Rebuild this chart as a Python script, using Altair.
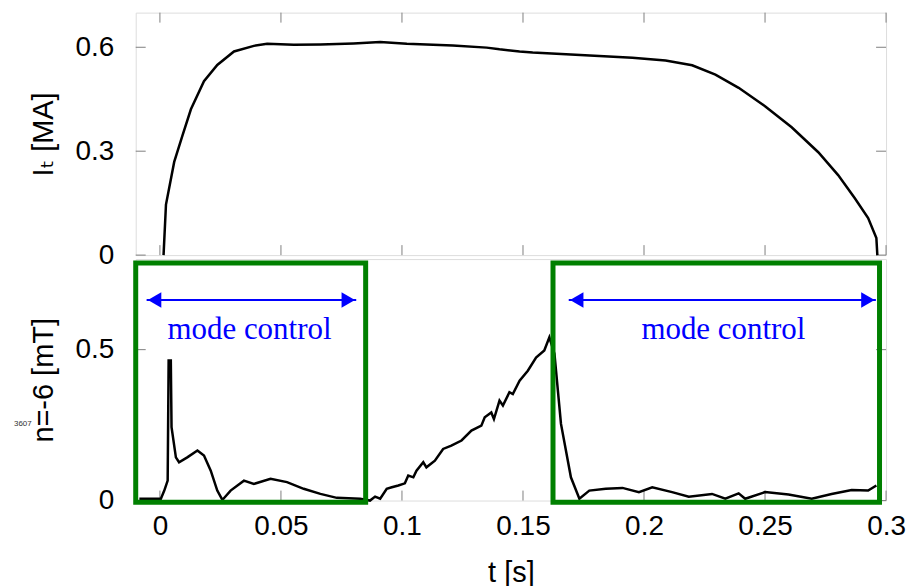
import altair as alt
import pandas as pd

# ---- data ----
t_top = [0.0015, 0.0025, 0.0059, 0.0093, 0.0128, 0.0182, 0.0237, 0.0306, 0.0388, 0.0443,
         0.0553, 0.0663, 0.080, 0.091, 0.102, 0.121, 0.135, 0.1403, 0.1486, 0.154,
         0.1678, 0.1815, 0.1952, 0.2089, 0.2199, 0.2295, 0.2391, 0.25, 0.261, 0.272,
         0.2802, 0.2871, 0.2926, 0.296, 0.2964]
i_top = [0.0, 0.146, 0.269, 0.345, 0.421, 0.502, 0.549, 0.588, 0.604, 0.61,
         0.607, 0.608, 0.611, 0.615, 0.61, 0.605, 0.599, 0.594, 0.588, 0.585,
         0.58, 0.575, 0.570, 0.562, 0.548, 0.521, 0.483, 0.430, 0.369, 0.297,
         0.231, 0.164, 0.107, 0.049, 0.0]

t_bot = [-0.0085, 0.0004, 0.0018, 0.0032, 0.0036, 0.0045, 0.0048, 0.0066, 0.0079, 0.0113,
         0.0155, 0.0182, 0.021, 0.0237, 0.0258, 0.0292, 0.0347, 0.0388, 0.0457, 0.0525,
         0.0594, 0.0663, 0.0731, 0.0827, 0.0868, 0.0889, 0.091, 0.0937, 0.0958, 0.0985,
         0.1012, 0.1026, 0.1047, 0.106, 0.1088, 0.1101, 0.1136, 0.117, 0.1204, 0.1246,
         0.1287, 0.1328, 0.1342, 0.1369, 0.138, 0.1403, 0.1417, 0.1444, 0.1458, 0.1486,
         0.152, 0.1554, 0.1588, 0.1609, 0.163, 0.1657, 0.1698, 0.1733, 0.1774, 0.1842,
         0.1911, 0.1979, 0.2034, 0.2116, 0.2185, 0.2281, 0.2336, 0.2391, 0.2418, 0.25,
         0.2597, 0.2693, 0.2775, 0.2858, 0.2926, 0.296]
b_bot = [0.006, 0.006, 0.033, 0.066, 0.464, 0.464, 0.243, 0.143, 0.127, 0.143,
         0.166, 0.149, 0.099, 0.033, 0.002, 0.033, 0.066, 0.055, 0.072, 0.061,
         0.039, 0.022, 0.009, 0.006, 0.0, 0.013, 0.006, 0.039, 0.044, 0.05,
         0.057, 0.083, 0.077, 0.099, 0.127, 0.11, 0.132, 0.171, 0.182, 0.199,
         0.232, 0.248, 0.276, 0.292, 0.27, 0.331, 0.315, 0.359, 0.353, 0.397,
         0.43, 0.474, 0.497, 0.541, 0.486, 0.254, 0.077, 0.006, 0.033, 0.039,
         0.042, 0.028, 0.044, 0.028, 0.013, 0.022, 0.006, 0.024, 0.006, 0.028,
         0.02, 0.006, 0.022, 0.035, 0.033, 0.05]

x_ticks = [0, 0.05, 0.1, 0.15, 0.2, 0.25, 0.3]
y_ticks_top = [0, 0.3, 0.6]
y_ticks_bot = [0, 0.5]

box_t0 = [-0.01, 0.1624]
box_t1 = [0.085, 0.2973]
box_b0 = [-0.006, -0.006]
box_b1 = [0.787, 0.787]

arrow_t0 = [-0.0055, 0.1689]
arrow_t1 = [0.0811, 0.2958]
arrow_b = [0.6645, 0.6645]

label_t = [0.037, 0.2328]
label_b = [0.535, 0.535]
label_text = ["mode control", "mode control"]

shot_text = ["3607"]

# ---- layout ----
W = 752
H_TOP = 243
H_BOT = 242
X_DOMAIN = [-0.01, 0.3]
GRAY = "#808080"
GREEN = "#008000"
BLUE = "#0000ff"
SANS = "Liberation Sans, Arial, DejaVu Sans"

xs = alt.Scale(domain=X_DOMAIN, nice=False, zero=False)
ys_top = alt.Scale(domain=[0, 0.7], nice=False, zero=False)
ys_bot = alt.Scale(domain=[0, 0.8], nice=False, zero=False)

def yaxis(values, title):
    return alt.Axis(values=values, title=title, format="~g", ticks=False, tickSize=0,
                    domain=False, grid=False, labelPadding=22, titlePadding=16,
                    labelFontSize=28, titleFontSize=29, labelFont=SANS, titleFont=SANS,
                    labelColor="black", titleColor="black", titleFontWeight="normal")

x_axis_bot = alt.Axis(values=x_ticks, title="t [s]", format="~g", ticks=False, tickSize=0,
                      domain=False, grid=False, labelPadding=12, titlePadding=18,
                      labelFontSize=28, titleFontSize=29, labelFont=SANS, titleFont=SANS,
                      labelColor="black", titleColor="black", titleFontWeight="normal",
                      labelFlush=False, labelOverlap=False)

ax_top = yaxis(y_ticks_top, "Iₜ [MA]")
ax_bot = yaxis(y_ticks_bot, "n=-6 [mT]")

df_top = pd.DataFrame({"x": t_top, "y": i_top})
df_bot = pd.DataFrame({"x": t_bot, "y": b_bot})
df_xt = pd.DataFrame({"x": x_ticks})
df_yt_top = pd.DataFrame({"y": y_ticks_top})
df_yt_bot = pd.DataFrame({"y": y_ticks_bot})
df_box = pd.DataFrame({"x": box_t0, "x2": box_t1, "y": box_b0, "y2": box_b1})
df_arrow = pd.DataFrame({"x": arrow_t0, "x2": arrow_t1, "y": arrow_b})
df_label = pd.DataFrame({"x": label_t, "y": label_b, "text": label_text})
df_shot = pd.DataFrame({"text": shot_text})

TL = 10  # inward tick length

# ---- top panel ----
top_line = alt.Chart(df_top).mark_line(color="black", strokeWidth=2.5).encode(
    x=alt.X("x:Q", scale=xs, axis=None),
    y=alt.Y("y:Q", scale=ys_top, axis=ax_top),
)
top_xt_b = alt.Chart(df_xt).mark_rule(color=GRAY, strokeWidth=1).encode(
    x=alt.X("x:Q", scale=xs, axis=None), y=alt.value(H_TOP), y2=alt.value(H_TOP - TL))
top_xt_t = alt.Chart(df_xt).mark_rule(color=GRAY, strokeWidth=1).encode(
    x=alt.X("x:Q", scale=xs, axis=None), y=alt.value(0), y2=alt.value(TL))
top_yt_l = alt.Chart(df_yt_top).mark_rule(color=GRAY, strokeWidth=1).encode(
    y=alt.Y("y:Q", scale=ys_top, axis=ax_top), x=alt.value(0), x2=alt.value(TL))
top_yt_r = alt.Chart(df_yt_top).mark_rule(color=GRAY, strokeWidth=1).encode(
    y=alt.Y("y:Q", scale=ys_top, axis=ax_top), x=alt.value(W), x2=alt.value(W - TL))

top = alt.layer(top_xt_b, top_xt_t, top_yt_l, top_yt_r, top_line).properties(
    width=W, height=H_TOP)

# ---- bottom panel ----
bot_line = alt.Chart(df_bot).mark_line(color="black", strokeWidth=2.5).encode(
    x=alt.X("x:Q", scale=xs, axis=x_axis_bot),
    y=alt.Y("y:Q", scale=ys_bot, axis=ax_bot),
)
bot_xt = alt.Chart(df_xt).mark_rule(color=GRAY, strokeWidth=1).encode(
    x=alt.X("x:Q", scale=xs, axis=x_axis_bot), y=alt.value(H_BOT), y2=alt.value(H_BOT - TL))
bot_yt_l = alt.Chart(df_yt_bot).mark_rule(color=GRAY, strokeWidth=1).encode(
    y=alt.Y("y:Q", scale=ys_bot, axis=ax_bot), x=alt.value(0), x2=alt.value(TL))
bot_yt_r = alt.Chart(df_yt_bot).mark_rule(color=GRAY, strokeWidth=1).encode(
    y=alt.Y("y:Q", scale=ys_bot, axis=ax_bot), x=alt.value(W), x2=alt.value(W - TL))

boxes = alt.Chart(df_box).mark_rect(fill=None, fillOpacity=0, stroke=GREEN, strokeWidth=5).encode(
    x=alt.X("x:Q", scale=xs, axis=x_axis_bot), x2="x2:Q",
    y=alt.Y("y:Q", scale=ys_bot, axis=ax_bot), y2="y2:Q")

arrow_line = alt.Chart(df_arrow).mark_rule(color=BLUE, strokeWidth=2).encode(
    x=alt.X("x:Q", scale=xs, axis=x_axis_bot), x2="x2:Q",
    y=alt.Y("y:Q", scale=ys_bot, axis=ax_bot))
arrow_left = alt.Chart(df_arrow).mark_point(shape="triangle-left", filled=True, color=BLUE,
                                            size=240, opacity=1).encode(
    x=alt.X("x:Q", scale=xs, axis=x_axis_bot),
    y=alt.Y("y:Q", scale=ys_bot, axis=ax_bot), xOffset=alt.value(8))
arrow_right = alt.Chart(df_arrow).mark_point(shape="triangle-right", filled=True, color=BLUE,
                                             size=240, opacity=1).encode(
    x=alt.X("x2:Q", scale=xs, axis=x_axis_bot),
    y=alt.Y("y:Q", scale=ys_bot, axis=ax_bot), xOffset=alt.value(-8))

labels = alt.Chart(df_label).mark_text(font="Liberation Serif, Times New Roman, serif",
                                       fontSize=31, color=BLUE, align="center",
                                       baseline="alphabetic").encode(
    x=alt.X("x:Q", scale=xs, axis=x_axis_bot),
    y=alt.Y("y:Q", scale=ys_bot, axis=ax_bot), text="text:N")

shot = alt.Chart(df_shot).mark_text(font=SANS, fontSize=8, color="#333333", align="left",
                                    baseline="middle").encode(
    x=alt.value(-122), y=alt.value(165), text="text:N")

bottom = alt.layer(bot_xt, bot_yt_l, bot_yt_r, bot_line, boxes, arrow_line, arrow_left,
                   arrow_right, labels, shot).properties(width=W, height=H_BOT)

chart = alt.vconcat(top, bottom, spacing=4, bounds="flush").properties(
    padding={"left": 5, "top": 3, "right": 5, "bottom": 5}
).configure_view(stroke=GRAY, strokeWidth=1).configure(background="white")

chart.save("out.html", embed_options={"renderer": "svg", "actions": False})
